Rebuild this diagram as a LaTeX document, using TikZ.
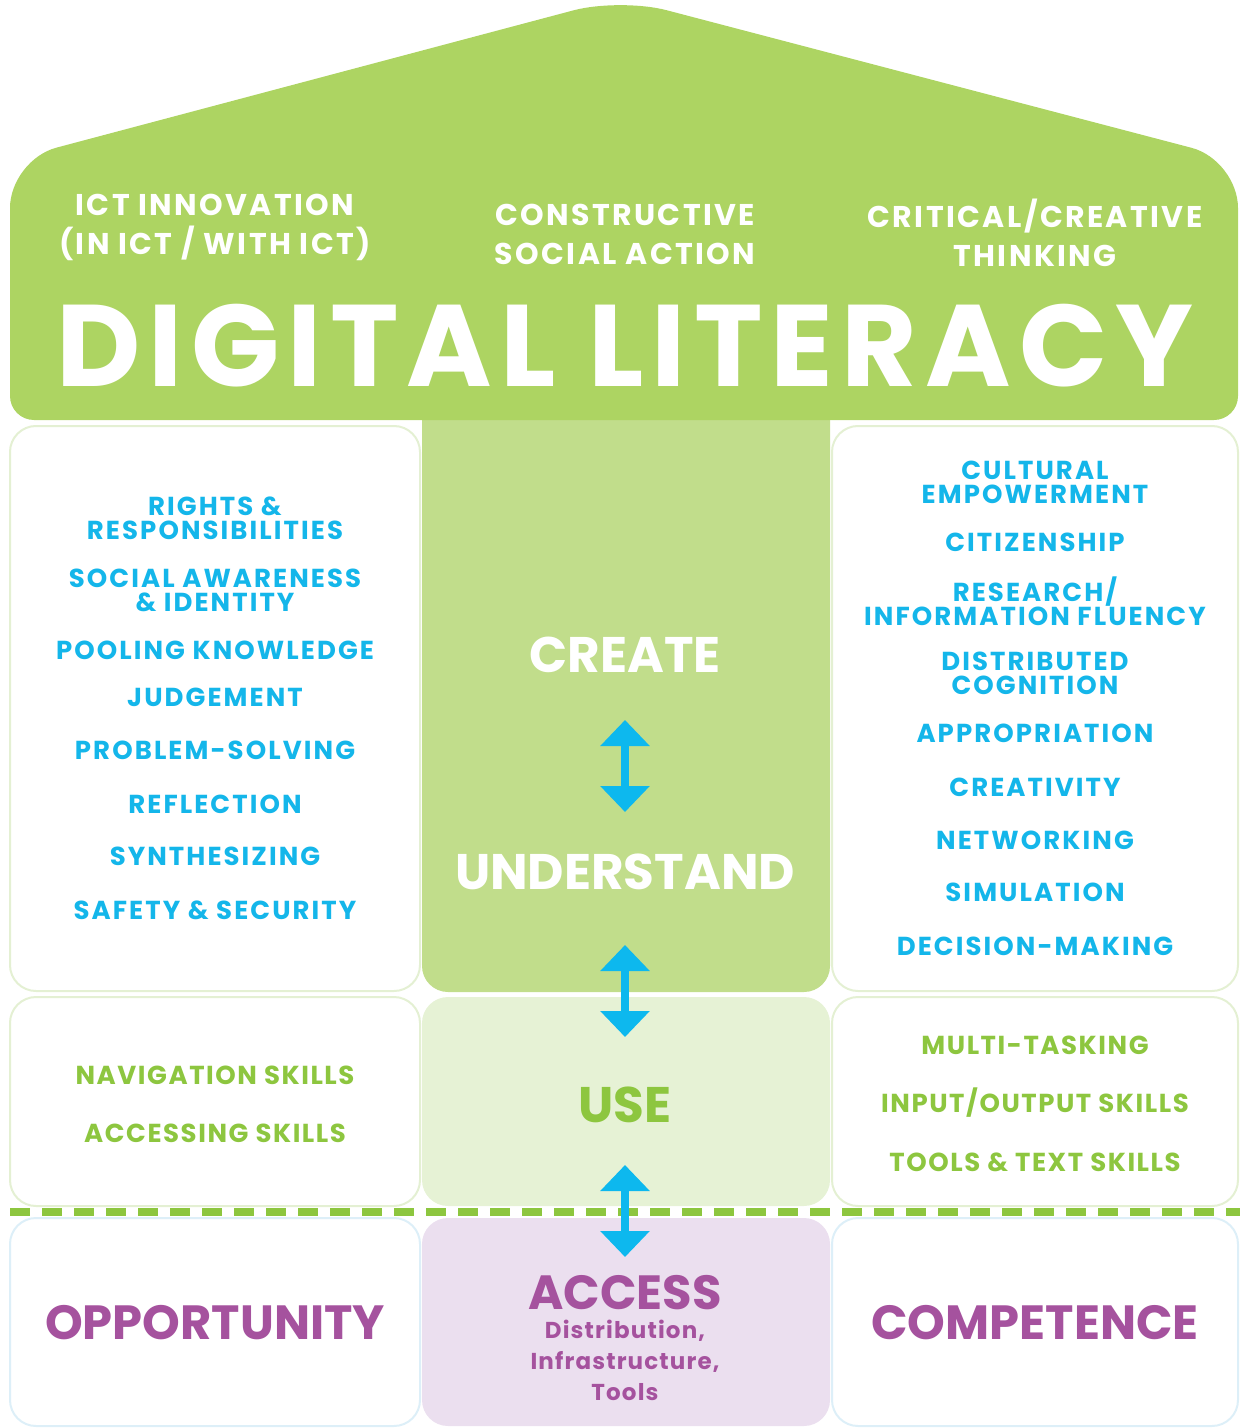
\documentclass[tikz,border=0pt]{standalone}
\usepackage{fontspec}
\setmainfont{Poppins}
\usetikzlibrary{arrows.meta,positioning}

\definecolor{roofgreen}{HTML}{ADD462}
\definecolor{createfill}{HTML}{C1DD8B}
\definecolor{usefill}{HTML}{E6F2D5}
\definecolor{accessfill}{HTML}{EBDFEF}
\definecolor{boxline}{HTML}{E4F0D3}
\definecolor{lowline}{HTML}{DDEFF8}
\definecolor{skillblue}{HTML}{14B6EA}
\definecolor{skillgreen}{HTML}{8DC63F}
\definecolor{accpurple}{HTML}{A5529E}
\definecolor{arrowblue}{HTML}{0DB8EE}

\tikzset{
  panel/.style={draw=boxline,line width=1pt,fill=white,rounded corners=13pt},
  lowpanel/.style={draw=lowline,line width=1pt,fill=white,rounded corners=13pt},
  roofhead/.style={text=white,align=center,font=\bfseries\fontsize{15}{19.5}\selectfont\addfontfeature{LetterSpace=8}},
  bluelist/.style={text=skillblue,align=center,font=\bfseries\fontsize{13}{12}\selectfont\addfontfeature{LetterSpace=8}},
  greenlist/.style={text=skillgreen,align=center,font=\bfseries\fontsize{13}{12}\selectfont\addfontfeature{LetterSpace=6}},
  stage/.style={align=center,font=\bfseries\fontsize{25}{25}\selectfont},
  bigword/.style={text=accpurple,align=center,font=\bfseries\fontsize{24}{24}\selectfont},
  updown/.style={arrowblue,line width=4pt,
    {Triangle[width=24pt,length=13pt]}-{Triangle[width=24pt,length=13pt]}}
}

\begin{document}
\begin{tikzpicture}[x=0.5pt,y=-0.5pt]
\useasboundingbox (0,0) rectangle (1240,1428);

% middle column
\fill[createfill,rounded corners=13pt] (422,380) rectangle (830,992);
\fill[usefill,rounded corners=13pt] (422,997) rectangle (830,1206);
\fill[accessfill,rounded corners=13pt] (422,1218) rectangle (830,1426);

% side panels
\draw[panel] (10,426) rectangle (420,991);
\draw[panel] (832,426) rectangle (1238,991);
\draw[panel] (10,997) rectangle (420,1206);
\draw[panel] (832,997) rectangle (1238,1206);
\draw[lowpanel] (10,1218) rectangle (420,1426);
\draw[lowpanel] (832,1218) rectangle (1238,1426);

% roof
\fill[roofgreen] (10,300) [rounded corners=24pt] -- (10,160) -- (620,-2) -- (1238,160) -- (1238,300)
  [rounded corners=12pt] -- (1238,420) -- (10,420) -- cycle;

% dashed divide
\draw[skillgreen,line width=4pt,dash pattern=on 10pt off 6pt] (10,1212) -- (1240,1212);

\node[roofhead] (ictinno) at (215,227) {ICT INNOVATION\\(IN ICT / WITH ICT)};
\node[roofhead] (social)  at (625,234) {CONSTRUCTIVE\\SOCIAL ACTION};
\node[roofhead] (critical) at (1035,233) {CRITICAL/CREATIVE\\THINKING};
\node[text=white,font=\bfseries\fontsize{58}{58}\selectfont\addfontfeature{LetterSpace=7}] (title) at (625,346) {DIGITAL LITERACY};

% left list
\node[bluelist] (rights)  at (215,518) {RIGHTS \&\\RESPONSIBILITIES};
\node[bluelist] (aware)   at (215,590) {SOCIAL AWARENESS\\\& IDENTITY};
\node[bluelist] (pooling) at (215,650) {POOLING KNOWLEDGE};
\node[bluelist] (judge)   at (215,697) {JUDGEMENT};
\node[bluelist] (problem) at (215,750) {PROBLEM-SOLVING};
\node[bluelist] (reflect) at (215,804) {REFLECTION};
\node[bluelist] (synth)   at (215,856) {SYNTHESIZING};
\node[bluelist] (safety)  at (215,910) {SAFETY \& SECURITY};

% right list
\node[bluelist] (culture) at (1035,482) {CULTURAL\\EMPOWERMENT};
\node[bluelist] (citizen) at (1035,542) {CITIZENSHIP};
\node[bluelist] (research) at (1035,601) {RESEARCH/\\INFORMATION FLUENCY};
\node[bluelist] (distrib) at (1035,673) {DISTRIBUTED\\COGNITION};
\node[bluelist] (approp)  at (1035,733) {APPROPRIATION};
\node[bluelist] (creativ) at (1035,787) {CREATIVITY};
\node[bluelist] (network) at (1035,840) {NETWORKING};
\node[bluelist] (simul)   at (1035,892) {SIMULATION};
\node[bluelist] (decide)  at (1035,946) {DECISION-MAKING};

% middle stages
\node[stage,text=white] (create) at (625,655) {CREATE};
\node[stage,text=white] (understand) at (625,872) {UNDERSTAND};
\node[stage,text=skillgreen] (use) at (625,1105) {USE};

% use row
\node[greenlist] (navig)  at (215,1075) {NAVIGATION SKILLS};
\node[greenlist] (access) at (215,1133) {ACCESSING SKILLS};
\node[greenlist] (multi)  at (1035,1045) {MULTI-TASKING};
\node[greenlist] (inout)  at (1035,1103) {INPUT/OUTPUT SKILLS};
\node[greenlist] (tools)  at (1035,1162) {TOOLS \& TEXT SKILLS};

% bottom row
\node[bigword] (opport) at (215,1323) {OPPORTUNITY};
\node[bigword] (compet) at (1035,1323) {COMPETENCE};
\node[bigword] (accword) at (625,1293) {ACCESS};
\node[text=accpurple,align=center,font=\bfseries\fontsize{11.5}{15.5}\selectfont\addfontfeature{LetterSpace=5},below=-2pt of accword]
  (infra) {Distribution,\\Infrastructure,\\Tools};

% arrows
\coordinate (up1) at (625,720);  \coordinate (dn1) at (625,812);
\coordinate (up2) at (625,945);  \coordinate (dn2) at (625,1037);
\coordinate (up3) at (625,1165); \coordinate (dn3) at (625,1257);
\draw[updown] (up1) -- (dn1);
\draw[updown] (up2) -- (dn2);
\draw[updown] (up3) -- (dn3);
\end{tikzpicture}
\end{document}
